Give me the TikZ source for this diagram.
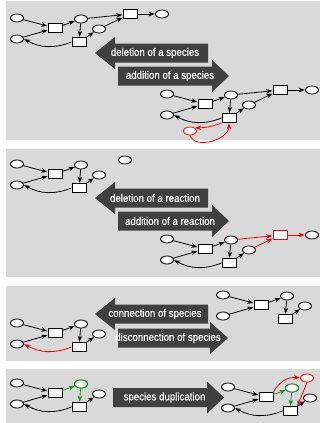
\documentclass[tikz,border=0pt]{standalone}
\usepackage{fontspec}
\setmainfont{Liberation Sans}
\newfontfamily\bandfont{Liberation Sans}[FakeBold=0.6]
\usetikzlibrary{shapes.geometric,arrows.meta}

\definecolor{panel}{RGB}{217,217,217}
\definecolor{band}{RGB}{64,64,64}
\definecolor{dupgreen}{RGB}{20,150,20}

\tikzset{
  sp/.style={ellipse, draw, fill=white, minimum width=13pt, minimum height=8pt, inner sep=0pt, line width=0.8pt},
  rx/.style={rectangle, draw, fill=white, minimum width=14pt, minimum height=9pt, inner sep=0pt, line width=0.8pt},
  edge/.style={line width=0.8pt, -{Stealth[length=6pt,width=4.5pt]}, shorten >=0.3pt},
  lbl/.style={text=white, font=\bandfont\fontsize{11}{13}\selectfont, inner sep=0pt},
}

% condensed label text
\newcommand\cond[1]{\scalebox{0.88}[1]{#1}}
% left-pointing band arrow: tip x, mid y, head base x, tail x
\newcommand\bandL[4]{\fill[band] (#1,#2) -- (#3,#2-16) -- (#3,#2-9.5) -- (#4,#2-9.5)
  -- (#4,#2+9.5) -- (#3,#2+9.5) -- (#3,#2+16) -- cycle;}
% right-pointing band arrow: tail x, mid y, head base x, tip x
\newcommand\bandR[4]{\fill[band] (#1,#2-9.5) -- (#3,#2-9.5) -- (#3,#2-16) -- (#4,#2)
  -- (#3,#2+16) -- (#3,#2+9.5) -- (#1,#2+9.5) -- cycle;}
% the six core nodes of the network
\newcommand\corenodes{%
  \node[sp] (A) at (17,18) {};
  \node[sp] (B) at (17,39) {};
  \node[rx] (R1) at (55,28) {};
  \node[sp] (C) at (81,19) {};
  \node[rx] (R2) at (79,42) {};
  \node[sp] (D) at (99,29) {};}

\begin{document}
\begin{tikzpicture}[x=1pt,y=-1pt]
\useasboundingbox (0,0) rectangle (320,423);

% panels
\fill[panel] (6,1) rectangle (320,140);
\fill[panel] (6,149) rectangle (320,277);
\fill[panel] (6,286) rectangle (320,361);
\fill[panel] (6,369) rectangle (320,423);

% ---------- panel 1: species deletion / addition ----------
\begin{scope}[name prefix=p1a-]
  \corenodes
  \node[rx] (R3) at (130,14) {};
  \node[sp] (E) at (162,14) {};
  \draw[edge] (A) -- (R1);
  \draw[edge] (B) -- (R1);
  \draw[edge] (R1) -- (C);
  \draw[edge] (C) -- (R2);
  \draw[edge] (R2) -- (D);
  \draw[edge] (D) -- (R3);
  \draw[edge] (C) -- (R3);
  \draw[edge] (R3) -- (E);
  \draw[edge] (R2.west) to[bend left=25] (B.east);
\end{scope}

\bandL{95}{53}{115}{208}
\node[lbl] (t1) at (155,53) {\cond{deletion of a species}};
\bandR{118}{76}{212}{229}
\node[lbl] (t2) at (170,76) {\cond{addition of a species}};

\begin{scope}[shift={(150,76)}, name prefix=p1b-]
  \corenodes
  \node[rx] (R3) at (130,14) {};
  \node[sp] (E) at (162,14) {};
  \node[sp, draw=red] (F) at (40,55) {};
  \draw[edge] (A) -- (R1);
  \draw[edge] (B) -- (R1);
  \draw[edge] (R1) -- (C);
  \draw[edge] (C) -- (R2);
  \draw[edge] (R2) -- (D);
  \draw[edge] (D) -- (R3);
  \draw[edge] (C) -- (R3);
  \draw[edge] (R3) -- (E);
  \draw[edge] (R2.west) to[bend left=25] (B.east);
  \draw[edge, red] (R2.south west) to[bend left=10] (F.north east);
  \draw[edge, red] (F.south) to[out=-70, in=-90] (R2.south);
\end{scope}

% ---------- panel 2: reaction deletion / addition ----------
\begin{scope}[shift={(0,146)}, name prefix=p2a-]
  \corenodes
  \node[sp] (E) at (125,14) {};
  \draw[edge] (A) -- (R1);
  \draw[edge] (B) -- (R1);
  \draw[edge] (R1) -- (C);
  \draw[edge] (C) -- (R2);
  \draw[edge] (R2) -- (D);
  \draw[edge] (R2.west) to[bend left=25] (B.east);
\end{scope}

\bandL{95}{198}{115}{208}
\node[lbl] (t3) at (155,198) {\cond{deletion of a reaction}};
\bandR{118}{221}{212}{229}
\node[lbl] (t4) at (170,221) {\cond{addition of a reaction}};

\begin{scope}[shift={(150,221)}, name prefix=p2b-]
  \corenodes
  \node[rx, draw=red] (R3) at (130,14) {};
  \node[sp] (E) at (162,14) {};
  \draw[edge] (A) -- (R1);
  \draw[edge] (B) -- (R1);
  \draw[edge] (R1) -- (C);
  \draw[edge] (C) -- (R2);
  \draw[edge] (R2) -- (D);
  \draw[edge, red] (D) -- (R3);
  \draw[edge, red] (C) -- (R3);
  \draw[edge, red] (R3) -- (E);
  \draw[edge] (R2.west) to[bend left=25] (B.east);
\end{scope}

% ---------- panel 3: connection / disconnection ----------
\begin{scope}[shift={(0,305)}, name prefix=p3a-]
  \corenodes
  \draw[edge] (A) -- (R1);
  \draw[edge] (B) -- (R1);
  \draw[edge] (R1) -- (C);
  \draw[edge] (C) -- (R2);
  \draw[edge] (R2) -- (D);
  \draw[edge, red] (R2.west) to[bend left=25] (B.east);
\end{scope}

\bandL{95}{314}{115}{208}
\node[lbl] (t5) at (155,314) {\cond{connection of species}};
\bandR{118}{338}{210}{228}
\node[lbl] (t6) at (168,338) {\cond{disconnection of species}};

\begin{scope}[shift={(206,277)}, name prefix=p3b-]
  \corenodes
  \draw[edge] (A) -- (R1);
  \draw[edge] (B) -- (R1);
  \draw[edge] (R1) -- (C);
  \draw[edge] (C) -- (R2);
  \draw[edge] (R2) -- (D);
\end{scope}

% ---------- panel 4: species duplication ----------
\begin{scope}[shift={(0,365)}, name prefix=p4a-]
  \corenodes
  \node[sp, draw=dupgreen] at (C) {};
  \draw[edge] (A) -- (R1);
  \draw[edge] (B) -- (R1);
  \draw[edge, dupgreen] (R1) -- (C);
  \draw[edge, dupgreen] (C) -- (R2);
  \draw[edge] (R2) -- (D);
  \draw[edge] (R2.west) to[bend left=25] (B.east);
\end{scope}

\bandR{113}{397.5}{207}{224}
\node[lbl] (t7) at (164.5,397.5) {\cond{species duplication}};

\begin{scope}[shift={(211,369)}, name prefix=p4b-]
  \corenodes
  \node[sp, draw=dupgreen] at (C) {};
  \node[sp, draw=red] (C2) at (96,9) {};
  \draw[edge] (A) -- (R1);
  \draw[edge] (B) -- (R1);
  \draw[edge, dupgreen] (R1) -- (C);
  \draw[edge, dupgreen] (C) -- (R2);
  \draw[edge] (R2) -- (D);
  \draw[edge] (R2.west) to[bend left=25] (B.east);
  \draw[edge, red] (R1.north east) to[bend left=35] (C2.west);
  \draw[edge, red] (C2.south) -- (R2.north east);
\end{scope}
\end{tikzpicture}
\end{document}
